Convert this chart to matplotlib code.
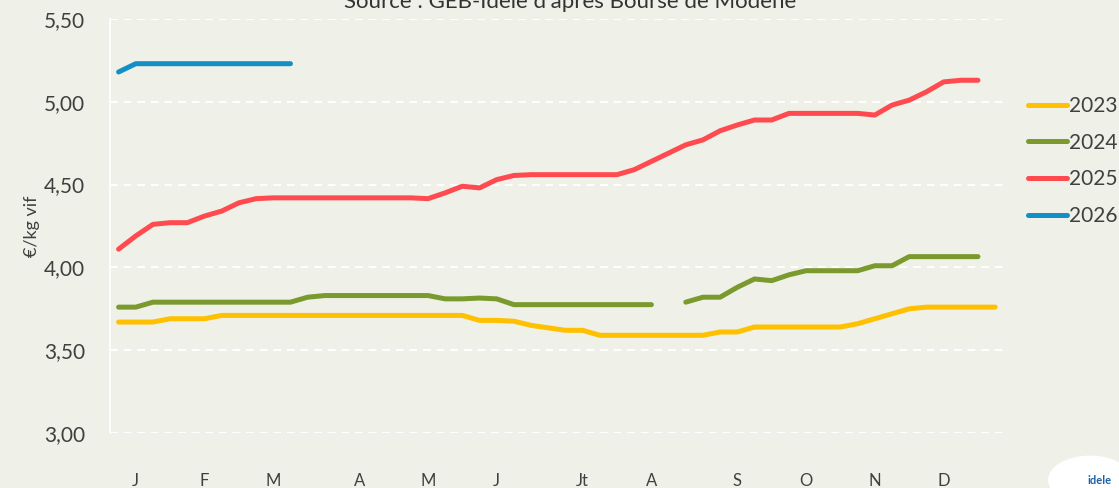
import numpy as np
import matplotlib
matplotlib.use("Agg")
import matplotlib.pyplot as plt
from matplotlib.patches import Ellipse

plt.rcParams['font.family'] = ['Lato', 'DejaVu Sans']

# weekly prices, €/kg vif (week 1..52)
weeks = np.arange(1, 53)
p2023 = [3.67, 3.67, 3.67, 3.69, 3.69, 3.69, 3.71, 3.71, 3.71, 3.71,
         3.71, 3.71, 3.71, 3.71, 3.71, 3.71, 3.71, 3.71, 3.71, 3.71,
         3.71, 3.68, 3.68, 3.675, 3.65, 3.635, 3.62, 3.62, 3.59, 3.59,
         3.59, 3.59, 3.59, 3.59, 3.59, 3.61, 3.61, 3.64, 3.64, 3.64,
         3.64, 3.64, 3.64, 3.66, 3.69, 3.72, 3.75, 3.76, 3.76, 3.76,
         3.76, 3.76]
p2024 = [3.76, 3.76, 3.79, 3.79, 3.79, 3.79, 3.79, 3.79, 3.79, 3.79,
         3.79, 3.82, 3.83, 3.83, 3.83, 3.83, 3.83, 3.83, 3.83, 3.81,
         3.81, 3.815, 3.81, 3.775, 3.775, 3.775, 3.775, 3.775, 3.775, 3.775,
         3.775, 3.775, None, 3.79, 3.82, 3.82, 3.88, 3.93, 3.92, 3.955,
         3.98, 3.98, 3.98, 3.98, 4.01, 4.01, 4.065, 4.065, 4.065, 4.065,
         4.065, None]
p2025 = [4.11, 4.19, 4.26, 4.27, 4.27, 4.31, 4.34, 4.39, 4.415, 4.42,
         4.42, 4.42, 4.42, 4.42, 4.42, 4.42, 4.42, 4.42, 4.415, 4.45,
         4.49, 4.48, 4.53, 4.555, 4.56, 4.56, 4.56, 4.56, 4.56, 4.56,
         4.59, 4.64, 4.69, 4.74, 4.77, 4.825, 4.86, 4.89, 4.89, 4.93,
         4.93, 4.93, 4.93, 4.93, 4.92, 4.98, 5.01, 5.06, 5.12, 5.13,
         5.13, None]
p2026 = [5.18, 5.23, 5.23, 5.23, 5.23, 5.23, 5.23, 5.23, 5.23, 5.23, 5.23]

series = [("2023", p2023, "#ffc000"),
          ("2024", p2024, "#7a9a2e"),
          ("2025", p2025, "#ff4b4f"),
          ("2026", p2026, "#128fc6")]

month_labels = ["J", "F", "M", "A", "M", "J", "Jt", "A", "S", "O", "N", "D"]
month_weeks = [2, 6, 10, 15, 19, 23, 28, 32, 37, 41, 45, 49]
yticks = [3.0, 3.5, 4.0, 4.5, 5.0, 5.5]

bg = "#eff0e7"
txt = "#404040"

fig = plt.figure(figsize=(11.19, 4.88), dpi=100, facecolor=bg)
ax = fig.add_axes([0.0983, 0.1127, 0.7987, 0.8484], facecolor=bg)

for name, vals, col in series:
    y = np.array([np.nan if v is None else v for v in vals], dtype=float)
    ax.plot(weeks[:len(y)], y, color=col, lw=3.6, label=name,
            solid_capstyle='round', solid_joinstyle='round', zorder=3)

ax.set_xlim(0.5, 52.5)
ax.set_ylim(3.0, 5.5)
ax.set_yticks(yticks)
ax.set_yticklabels([f"{v:.2f}".replace(".", ",") for v in yticks])
ax.set_xticks(month_weeks)
ax.set_xticklabels(month_labels)
ax.tick_params(axis='y', length=0, pad=18, labelsize=15, labelcolor=txt)
ax.tick_params(axis='x', length=0, pad=29, labelsize=12, labelcolor=txt)

ax.grid(axis='y', color='white', lw=1.4, ls=(0, (4, 3)), zorder=1)
ax.grid(axis='x', visible=False)
for s in ['top', 'right', 'bottom']:
    ax.spines[s].set_visible(False)
ax.spines['left'].set_color('white')
ax.spines['left'].set_linewidth(1.2)

ax.set_ylabel("€/kg vif", fontsize=13, color=txt, labelpad=3)

fig.text(570 / 1119, 1 - 8 / 488, "Source : GEB-Idele d'après Bourse de Modène",
         ha='center', va='baseline', fontsize=16, color="#333333")

ax.legend(loc='upper left', bbox_to_anchor=(1028 / 1119, 1 - 96 / 488),
          bbox_transform=fig.transFigure, frameon=False, fontsize=15,
          handlelength=1.85, handletextpad=0.1, labelspacing=0.8,
          borderpad=0, borderaxespad=0, labelcolor=txt)

# logo placeholder, bottom right
fig.patches.append(Ellipse((1090 / 1119, 8 / 488), 0.075, 0.1,
                           transform=fig.transFigure, facecolor='white',
                           edgecolor='none'))
fig.text(1100 / 1119, 2 / 488, "idele", ha='center', va='bottom', fontsize=8,
         fontweight='bold', color="#1a5fa8")

fig.savefig("out.png", dpi=100, facecolor=bg)
